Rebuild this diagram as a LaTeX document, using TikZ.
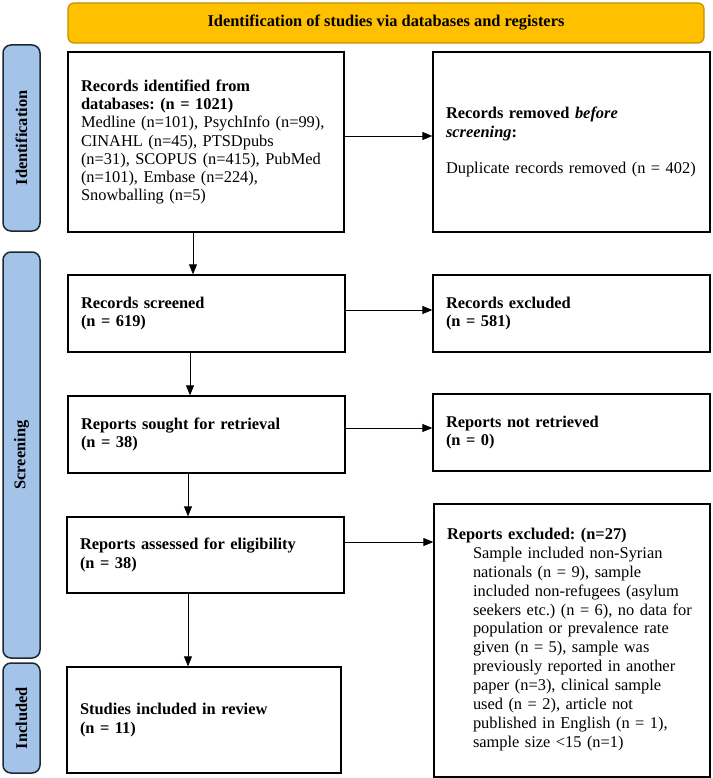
\documentclass[tikz,border=0pt]{standalone}
\usepackage{fontspec}
\setmainfont{Liberation Serif}
\usetikzlibrary{arrows.meta,positioning}
\definecolor{bannerfill}{HTML}{FFC000}
\definecolor{bannerline}{HTML}{BF9000}
\definecolor{phasefill}{HTML}{A3C3E8}
\definecolor{phaseline}{HTML}{1F2733}
\frenchspacing

\begin{document}
\begin{tikzpicture}[x=1pt,y=-1pt,
	font=\fontsize{16.4}{18.3}\selectfont,
	box/.style={draw, line width=1.3pt, text width=#1-26pt, inner xsep=13pt, inner ysep=4pt, align=left},
	banner/.style={draw=bannerline, fill=bannerfill, line width=1.2pt, rounded corners=6pt, minimum width=636pt, minimum height=40pt, font=\fontsize{16.4}{18.3}\selectfont\bfseries},
	phase/.style={draw=phaseline, fill=phasefill, line width=1.5pt, rounded corners=8pt, rotate=90, minimum height=37pt, font=\fontsize{16.4}{18.3}\selectfont\bfseries},
	flow/.style={-{Triangle[length=10pt,width=8pt]}, line width=0.8pt}]
		\useasboundingbox (0,0) rectangle (712,778);
		\draw (386,23) node [banner] (head) {Identification of studies via databases and registers};
		\draw (21.5,138) node [phase, minimum width=186pt] (idph) {Identification};
		\draw (21.5,455) node [phase, minimum width=406pt] (scph) {Screening};
		\draw (21.5,718) node [phase, minimum width=110pt] (inph) {Included};
		\draw (206,142) node [box=276pt, minimum height=180pt] (rec) {\textbf{Records identified from}\\ \textbf{databases: (n = 1021)}\\ Medline (n=101), PsychInfo (n=99),\\ CINAHL (n=45), PTSDpubs\\ (n=31), SCOPUS (n=415), PubMed\\ (n=101), Embase (n=224),\\ Snowballing (n=5)};
		\draw (571.5,142) node [box=277pt, minimum height=180pt] (dup) {\textbf{Records removed \textit{before}}\\ \textbf{\textit{screening}:}\\[18pt] Duplicate records removed (n = 402)};
		\draw (206.5,313.5) node [box=277pt, minimum height=77pt] (scr) {\textbf{Records screened}\\ \textbf{(n = 619)}};
		\draw (571.5,313.5) node [box=277pt, minimum height=77pt] (exc) {\textbf{Records excluded}\\ \textbf{(n = 581)}};
		\draw (206.5,434.5) node [box=277pt, minimum height=77pt] (sought) {\textbf{Reports sought for retrieval}\\ \textbf{(n = 38)}};
		\draw (571.5,432.5) node [box=277pt, minimum height=77pt] (notret) {\textbf{Reports not retrieved}\\ \textbf{(n = 0)}};
		\draw (205.5,555) node [box=277pt, minimum height=76pt] (elig) {\textbf{Reports assessed for eligibility}\\ \textbf{(n = 38)}};
		\draw (572,640.5) node [box=276pt, minimum height=273pt, font=\fontsize{16.4}{18.9}\selectfont] (repexc) {\textbf{Reports excluded: (n=27)}\\
			\hspace*{26pt}\begin{tabular}[t]{@{}l@{}}
			Sample included non-Syrian\\ nationals (n = 9), sample\\ included non-refugees (asylum\\ seekers etc.) (n = 6), no data for\\ population or prevalence rate\\ given (n = 5), sample was\\ previously reported in another\\ paper (n=3), clinical sample\\ used (n = 2), article not\\ published in English (n = 1),\\ sample size <15 (n=1)
			\end{tabular}};
		\draw (204,720) node [box=274pt, minimum height=106pt] (incl) {\textbf{Studies included in review}\\ \textbf{(n = 11)}\\[6pt]};
		\path [flow]
		([yshift=6pt]rec.east) edge ([yshift=6pt]rec.east -| dup.west)
		([yshift=3.5pt]scr.east) edge ([yshift=3.5pt]scr.east -| exc.west)
		([yshift=6.5pt]sought.east) edge ([yshift=6.5pt]sought.east -| notret.west)
		([yshift=13pt]elig.east) edge ([yshift=13pt]elig.east -| repexc.west)
		([xshift=-13pt]rec.south) edge ([xshift=-13pt]rec.south |- scr.north)
		([xshift=-16.5pt]scr.south) edge ([xshift=-16.5pt]scr.south |- sought.north)
		([xshift=-18.5pt]sought.south) edge ([xshift=-18.5pt]sought.south |- elig.north)
		([xshift=-17.5pt]elig.south) edge ([xshift=-17.5pt]elig.south |- incl.north);
	\end{tikzpicture}
\end{document}
